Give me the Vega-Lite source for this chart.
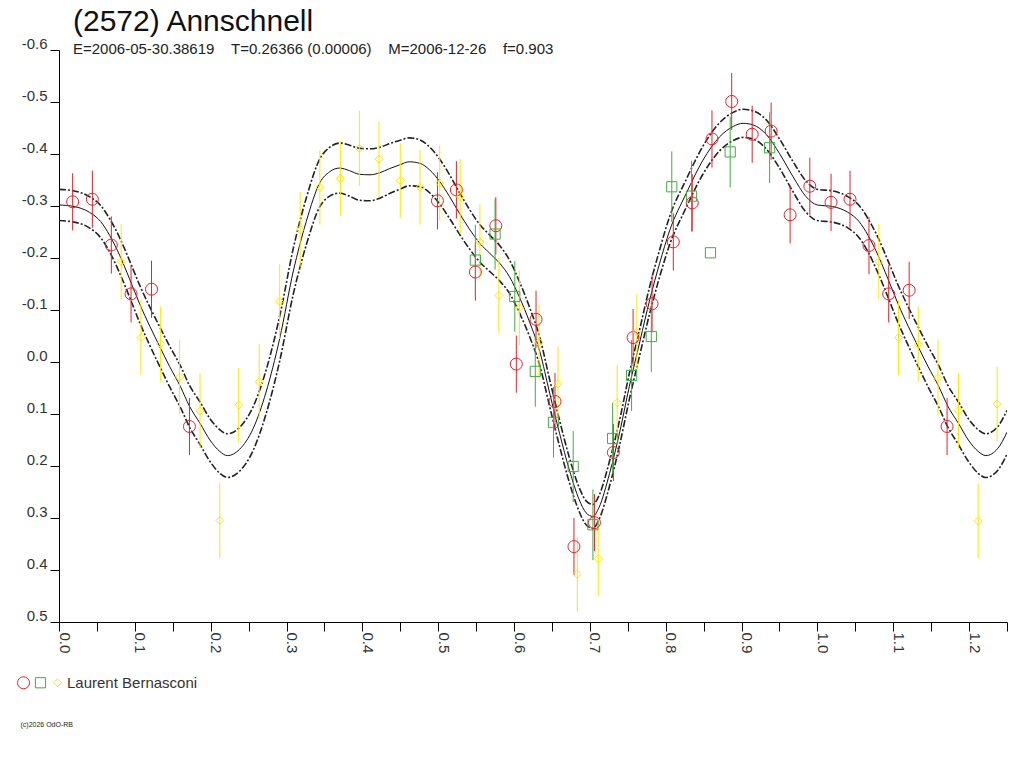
{
  "$schema": "https://vega.github.io/schema/vega-lite/v6.json",
  "autosize": {"type": "none"},
  "padding": {"left": 59, "top": 50, "right": 17, "bottom": 146},
  "width": 948,
  "height": 572,
  "background": "white",
  "title": {
    "text": "(2572) Annschnell",
    "subtitle": "E=2006-05-30.38619\u00a0\u00a0\u00a0\u00a0T=0.26366 (0.00006)\u00a0\u00a0\u00a0\u00a0M=2006-12-26\u00a0\u00a0\u00a0\u00a0f=0.903",
    "anchor": "start",
    "frame": "group",
    "dx": 14,
    "offset": -21,
    "font": "Liberation Sans",
    "fontSize": 30,
    "fontWeight": "normal",
    "color": "#111",
    "subtitleFont": "Liberation Sans",
    "subtitleFontSize": 15,
    "subtitleColor": "#222",
    "subtitlePadding": 5
  },
  "datasets": {
    "fit": [
      {"p": 0.000, "m": -0.302, "hi": -0.332, "lo": -0.272},
      {"p": 0.020, "m": -0.299, "hi": -0.329, "lo": -0.269},
      {"p": 0.040, "m": -0.288, "hi": -0.318, "lo": -0.258},
      {"p": 0.055, "m": -0.270, "hi": -0.301, "lo": -0.239},
      {"p": 0.067, "m": -0.243, "hi": -0.275, "lo": -0.211},
      {"p": 0.080, "m": -0.205, "hi": -0.239, "lo": -0.171},
      {"p": 0.093, "m": -0.160, "hi": -0.195, "lo": -0.125},
      {"p": 0.106, "m": -0.113, "hi": -0.149, "lo": -0.077},
      {"p": 0.120, "m": -0.068, "hi": -0.105, "lo": -0.031},
      {"p": 0.133, "m": -0.029, "hi": -0.067, "lo": 0.009},
      {"p": 0.146, "m": 0.009, "hi": -0.030, "lo": 0.048},
      {"p": 0.160, "m": 0.047, "hi": 0.007, "lo": 0.087},
      {"p": 0.172, "m": 0.085, "hi": 0.045, "lo": 0.125},
      {"p": 0.186, "m": 0.118, "hi": 0.077, "lo": 0.159},
      {"p": 0.199, "m": 0.150, "hi": 0.109, "lo": 0.191},
      {"p": 0.212, "m": 0.172, "hi": 0.130, "lo": 0.214},
      {"p": 0.222, "m": 0.180, "hi": 0.138, "lo": 0.222},
      {"p": 0.238, "m": 0.168, "hi": 0.126, "lo": 0.210},
      {"p": 0.256, "m": 0.128, "hi": 0.086, "lo": 0.170},
      {"p": 0.273, "m": 0.058, "hi": 0.016, "lo": 0.100},
      {"p": 0.291, "m": -0.045, "hi": -0.088, "lo": -0.002},
      {"p": 0.309, "m": -0.175, "hi": -0.219, "lo": -0.131},
      {"p": 0.326, "m": -0.270, "hi": -0.315, "lo": -0.225},
      {"p": 0.344, "m": -0.345, "hi": -0.391, "lo": -0.299},
      {"p": 0.357, "m": -0.366, "hi": -0.413, "lo": -0.319},
      {"p": 0.370, "m": -0.373, "hi": -0.421, "lo": -0.325},
      {"p": 0.383, "m": -0.368, "hi": -0.417, "lo": -0.319},
      {"p": 0.396, "m": -0.361, "hi": -0.411, "lo": -0.311},
      {"p": 0.410, "m": -0.360, "hi": -0.410, "lo": -0.310},
      {"p": 0.423, "m": -0.364, "hi": -0.413, "lo": -0.315},
      {"p": 0.436, "m": -0.372, "hi": -0.420, "lo": -0.324},
      {"p": 0.449, "m": -0.379, "hi": -0.426, "lo": -0.332},
      {"p": 0.462, "m": -0.385, "hi": -0.431, "lo": -0.339},
      {"p": 0.476, "m": -0.382, "hi": -0.427, "lo": -0.337},
      {"p": 0.489, "m": -0.369, "hi": -0.413, "lo": -0.325},
      {"p": 0.502, "m": -0.347, "hi": -0.390, "lo": -0.304},
      {"p": 0.515, "m": -0.318, "hi": -0.360, "lo": -0.276},
      {"p": 0.528, "m": -0.286, "hi": -0.326, "lo": -0.246},
      {"p": 0.541, "m": -0.256, "hi": -0.294, "lo": -0.218},
      {"p": 0.555, "m": -0.228, "hi": -0.264, "lo": -0.192},
      {"p": 0.568, "m": -0.209, "hi": -0.244, "lo": -0.174},
      {"p": 0.581, "m": -0.190, "hi": -0.224, "lo": -0.156},
      {"p": 0.594, "m": -0.164, "hi": -0.196, "lo": -0.132},
      {"p": 0.607, "m": -0.125, "hi": -0.155, "lo": -0.095},
      {"p": 0.621, "m": -0.075, "hi": -0.103, "lo": -0.047},
      {"p": 0.634, "m": -0.020, "hi": -0.047, "lo": 0.007},
      {"p": 0.647, "m": 0.060, "hi": 0.034, "lo": 0.086},
      {"p": 0.660, "m": 0.137, "hi": 0.112, "lo": 0.162},
      {"p": 0.673, "m": 0.208, "hi": 0.184, "lo": 0.232},
      {"p": 0.686, "m": 0.265, "hi": 0.242, "lo": 0.288},
      {"p": 0.695, "m": 0.290, "hi": 0.267, "lo": 0.313},
      {"p": 0.704, "m": 0.297, "hi": 0.274, "lo": 0.320},
      {"p": 0.712, "m": 0.280, "hi": 0.257, "lo": 0.303},
      {"p": 0.726, "m": 0.214, "hi": 0.190, "lo": 0.238},
      {"p": 0.739, "m": 0.137, "hi": 0.113, "lo": 0.161},
      {"p": 0.752, "m": 0.047, "hi": 0.022, "lo": 0.072},
      {"p": 0.766, "m": -0.040, "hi": -0.065, "lo": -0.015},
      {"p": 0.779, "m": -0.120, "hi": -0.146, "lo": -0.094},
      {"p": 0.792, "m": -0.190, "hi": -0.216, "lo": -0.164},
      {"p": 0.805, "m": -0.252, "hi": -0.279, "lo": -0.225},
      {"p": 0.827, "m": -0.324, "hi": -0.351, "lo": -0.297},
      {"p": 0.849, "m": -0.388, "hi": -0.415, "lo": -0.361},
      {"p": 0.871, "m": -0.433, "hi": -0.460, "lo": -0.406},
      {"p": 0.889, "m": -0.453, "hi": -0.480, "lo": -0.426},
      {"p": 0.902, "m": -0.459, "hi": -0.486, "lo": -0.432},
      {"p": 0.915, "m": -0.456, "hi": -0.483, "lo": -0.429},
      {"p": 0.933, "m": -0.437, "hi": -0.465, "lo": -0.409},
      {"p": 0.950, "m": -0.401, "hi": -0.429, "lo": -0.373},
      {"p": 0.968, "m": -0.356, "hi": -0.385, "lo": -0.327},
      {"p": 0.985, "m": -0.318, "hi": -0.348, "lo": -0.288},
      {"p": 1.000, "m": -0.302, "hi": -0.332, "lo": -0.272},
      {"p": 1.020, "m": -0.299, "hi": -0.329, "lo": -0.269},
      {"p": 1.040, "m": -0.288, "hi": -0.318, "lo": -0.258},
      {"p": 1.055, "m": -0.270, "hi": -0.301, "lo": -0.239},
      {"p": 1.067, "m": -0.243, "hi": -0.275, "lo": -0.211},
      {"p": 1.080, "m": -0.205, "hi": -0.239, "lo": -0.171},
      {"p": 1.093, "m": -0.160, "hi": -0.195, "lo": -0.125},
      {"p": 1.106, "m": -0.113, "hi": -0.149, "lo": -0.077},
      {"p": 1.120, "m": -0.068, "hi": -0.105, "lo": -0.031},
      {"p": 1.133, "m": -0.029, "hi": -0.067, "lo": 0.009},
      {"p": 1.146, "m": 0.009, "hi": -0.030, "lo": 0.048},
      {"p": 1.160, "m": 0.047, "hi": 0.007, "lo": 0.087},
      {"p": 1.172, "m": 0.085, "hi": 0.045, "lo": 0.125},
      {"p": 1.186, "m": 0.118, "hi": 0.077, "lo": 0.159},
      {"p": 1.199, "m": 0.150, "hi": 0.109, "lo": 0.191},
      {"p": 1.212, "m": 0.172, "hi": 0.130, "lo": 0.214},
      {"p": 1.222, "m": 0.180, "hi": 0.138, "lo": 0.222},
      {"p": 1.238, "m": 0.166, "hi": 0.124, "lo": 0.208},
      {"p": 1.250, "m": 0.135, "hi": 0.093, "lo": 0.177}
    ],
    "obs": [
      {"p": 0.018, "m": -0.308, "e": 0.055, "session": "1"},
      {"p": 0.044, "m": -0.313, "e": 0.055, "session": "1"},
      {"p": 0.069, "m": -0.225, "e": 0.055, "session": "1"},
      {"p": 0.095, "m": -0.131, "e": 0.055, "session": "1"},
      {"p": 0.122, "m": -0.140, "e": 0.055, "session": "1"},
      {"p": 0.172, "m": 0.124, "e": 0.055, "session": "1"},
      {"p": 0.499, "m": -0.310, "e": 0.055, "session": "1"},
      {"p": 0.524, "m": -0.331, "e": 0.055, "session": "1"},
      {"p": 0.549, "m": -0.173, "e": 0.055, "session": "1"},
      {"p": 0.576, "m": -0.262, "e": 0.055, "session": "1"},
      {"p": 0.603, "m": 0.004, "e": 0.055, "session": "1"},
      {"p": 0.629, "m": -0.082, "e": 0.055, "session": "1"},
      {"p": 0.654, "m": 0.076, "e": 0.055, "session": "1"},
      {"p": 0.679, "m": 0.355, "e": 0.055, "session": "1"},
      {"p": 0.706, "m": 0.309, "e": 0.055, "session": "1"},
      {"p": 0.731, "m": 0.174, "e": 0.055, "session": "1"},
      {"p": 0.757, "m": -0.047, "e": 0.055, "session": "1"},
      {"p": 0.782, "m": -0.112, "e": 0.055, "session": "1"},
      {"p": 0.810, "m": -0.231, "e": 0.055, "session": "1"},
      {"p": 0.835, "m": -0.306, "e": 0.055, "session": "1"},
      {"p": 0.861, "m": -0.429, "e": 0.055, "session": "1"},
      {"p": 0.887, "m": -0.501, "e": 0.055, "session": "1"},
      {"p": 0.914, "m": -0.438, "e": 0.055, "session": "1"},
      {"p": 0.939, "m": -0.444, "e": 0.055, "session": "1"},
      {"p": 0.964, "m": -0.283, "e": 0.055, "session": "1"},
      {"p": 0.990, "m": -0.338, "e": 0.055, "session": "1"},
      {"p": 1.018, "m": -0.307, "e": 0.055, "session": "1"},
      {"p": 1.043, "m": -0.313, "e": 0.055, "session": "1"},
      {"p": 1.068, "m": -0.224, "e": 0.055, "session": "1"},
      {"p": 1.094, "m": -0.131, "e": 0.055, "session": "1"},
      {"p": 1.121, "m": -0.138, "e": 0.055, "session": "1"},
      {"p": 1.171, "m": 0.124, "e": 0.055, "session": "1"},
      {"p": 0.549, "m": -0.196, "e": 0.068, "session": "2"},
      {"p": 0.575, "m": -0.246, "e": 0.068, "session": "2"},
      {"p": 0.601, "m": -0.126, "e": 0.068, "session": "2"},
      {"p": 0.628, "m": 0.018, "e": 0.068, "session": "2"},
      {"p": 0.652, "m": 0.116, "e": 0.068, "session": "2"},
      {"p": 0.678, "m": 0.201, "e": 0.068, "session": "2"},
      {"p": 0.704, "m": 0.313, "e": 0.068, "session": "2"},
      {"p": 0.730, "m": 0.147, "e": 0.068, "session": "2"},
      {"p": 0.755, "m": 0.026, "e": 0.068, "session": "2"},
      {"p": 0.781, "m": -0.049, "e": 0.068, "session": "2"},
      {"p": 0.808, "m": -0.337, "e": 0.068, "session": "2"},
      {"p": 0.834, "m": -0.319, "e": 0.068, "session": "2"},
      {"p": 0.859, "m": -0.210, "e": 0.0, "session": "2"},
      {"p": 0.885, "m": -0.404, "e": 0.068, "session": "2"},
      {"p": 0.937, "m": -0.412, "e": 0.068, "session": "2"},
      {"p": 0.082, "m": -0.193, "e": 0.072, "session": "3"},
      {"p": 0.108, "m": -0.047, "e": 0.072, "session": "3"},
      {"p": 0.134, "m": -0.035, "e": 0.072, "session": "3"},
      {"p": 0.159, "m": 0.029, "e": 0.072, "session": "3"},
      {"p": 0.186, "m": 0.094, "e": 0.072, "session": "3"},
      {"p": 0.212, "m": 0.305, "e": 0.072, "session": "3"},
      {"p": 0.237, "m": 0.083, "e": 0.072, "session": "3"},
      {"p": 0.264, "m": 0.038, "e": 0.072, "session": "3"},
      {"p": 0.291, "m": -0.116, "e": 0.072, "session": "3"},
      {"p": 0.318, "m": -0.255, "e": 0.072, "session": "3"},
      {"p": 0.344, "m": -0.336, "e": 0.072, "session": "3"},
      {"p": 0.371, "m": -0.353, "e": 0.072, "session": "3"},
      {"p": 0.396, "m": -0.411, "e": 0.072, "session": "3"},
      {"p": 0.422, "m": -0.390, "e": 0.072, "session": "3"},
      {"p": 0.450, "m": -0.349, "e": 0.072, "session": "3"},
      {"p": 0.476, "m": -0.336, "e": 0.072, "session": "3"},
      {"p": 0.502, "m": -0.344, "e": 0.072, "session": "3"},
      {"p": 0.529, "m": -0.318, "e": 0.072, "session": "3"},
      {"p": 0.555, "m": -0.231, "e": 0.072, "session": "3"},
      {"p": 0.580, "m": -0.128, "e": 0.072, "session": "3"},
      {"p": 0.607, "m": -0.104, "e": 0.072, "session": "3"},
      {"p": 0.633, "m": -0.038, "e": 0.072, "session": "3"},
      {"p": 0.658, "m": 0.042, "e": 0.072, "session": "3"},
      {"p": 0.6835, "m": 0.408, "e": 0.072, "session": "3"},
      {"p": 0.711, "m": 0.378, "e": 0.072, "session": "3"},
      {"p": 0.736, "m": 0.078, "e": 0.072, "session": "3"},
      {"p": 0.762, "m": -0.058, "e": 0.072, "session": "3"},
      {"p": 1.081, "m": -0.193, "e": 0.072, "session": "3"},
      {"p": 1.107, "m": -0.047, "e": 0.072, "session": "3"},
      {"p": 1.133, "m": -0.034, "e": 0.072, "session": "3"},
      {"p": 1.159, "m": 0.030, "e": 0.072, "session": "3"},
      {"p": 1.186, "m": 0.094, "e": 0.072, "session": "3"},
      {"p": 1.212, "m": 0.306, "e": 0.072, "session": "3"},
      {"p": 1.237, "m": 0.081, "e": 0.072, "session": "3"}
    ]
  },
  "encoding": {
    "x": {
      "field": "p",
      "type": "quantitative",
      "scale": {"domain": [0, 1.25], "nice": false, "zero": false},
      "axis": {
        "title": "(c)2026 OdO-RB",
        "titleFontSize": 7,
        "titleFontWeight": "normal",
        "titleColor": "#222",
        "titleX": -39,
        "titleY": 102,
        "titleAlign": "left",
        "titleBaseline": "middle",
        "values": [0, 0.05, 0.1, 0.15, 0.2, 0.25, 0.3, 0.35, 0.4, 0.45, 0.5, 0.55, 0.6, 0.65, 0.7, 0.75, 0.8, 0.85, 0.9, 0.95, 1.0, 1.05, 1.1, 1.15, 1.2, 1.25],
        "labelExpr": "abs(datum.value * 10 - round(datum.value * 10)) < 0.01 ? format(datum.value, '.1f') : ''",
        "labelAngle": 90,
        "labelAlign": "left",
        "labelBaseline": "alphabetic",
        "labelPadding": 1,
        "labelFlush": false,
        "labelOverlap": false,
        "labelBound": false
      }
    }
  },
  "resolve": {"legend": {"color": "independent", "shape": "independent", "size": "independent"}},
  "layer": [
    {
      "data": {"name": "fit"},
      "mark": {"type": "line", "color": "#111", "strokeWidth": 1, "interpolate": "monotone", "clip": true},
      "encoding": {
        "y": {
          "field": "m",
          "type": "quantitative",
          "title": null,
          "scale": {"domain": [-0.6, 0.5], "reverse": true, "nice": false, "zero": false},
          "axis": {
            "values": [-0.6, -0.5, -0.4, -0.3, -0.2, -0.1, 0, 0.1, 0.2, 0.3, 0.4, 0.5],
            "labelExpr": "replace(format(datum.value, '.1f'), '\u2212', '-')",
            "labelPadding": 3,
            "labelBaseline": "middle",
            "labelOffset": -7,
            "labelFlush": false,
            "labelOverlap": false,
            "labelBound": false
          }
        }
      }
    },
    {
      "data": {"name": "fit"},
      "mark": {"type": "line", "color": "#222", "strokeWidth": 1.6, "strokeDash": [7, 2, 2, 2], "interpolate": "monotone", "clip": true},
      "encoding": {"y": {"field": "hi", "type": "quantitative", "title": null}}
    },
    {
      "data": {"name": "fit"},
      "mark": {"type": "line", "color": "#222", "strokeWidth": 1.6, "strokeDash": [7, 2, 2, 2], "interpolate": "monotone", "clip": true},
      "encoding": {"y": {"field": "lo", "type": "quantitative", "title": null}}
    },
    {
      "data": {"name": "obs"},
      "mark": {"type": "errorbar", "thickness": 1, "clip": true},
      "encoding": {
        "y": {"field": "m", "type": "quantitative", "title": null},
        "yError": {"field": "e"},
        "color": {
          "field": "session",
          "type": "nominal",
          "legend": null,
          "scale": {"domain": ["1", "2", "3"], "range": ["#e8202a", "#44aa44", "#ffe600"]}
        }
      }
    },
    {
      "data": {"name": "obs"},
      "mark": {"type": "point", "filled": false, "strokeWidth": 1, "opacity": 1, "clip": true},
      "encoding": {
        "y": {"field": "m", "type": "quantitative", "title": null},
        "color": {
          "field": "session",
          "type": "nominal",
          "scale": {"domain": ["1", "2", "3"], "range": ["#e8202a", "#44aa44", "#ffe600"]},
          "legend": {
            "orient": "none",
            "legendX": -43,
            "legendY": 625,
            "direction": "horizontal",
            "title": null,
            "padding": 0,
            "labelExpr": "datum.label == '3' ? 'Laurent Bernasconi' : ''",
            "labelFontSize": 15,
            "labelColor": "#333",
            "labelFont": "Liberation Sans",
            "labelOffset": 2,
            "columnPadding": 0,
            "symbolSize": 85,
            "symbolStrokeWidth": 1,
            "symbolFillColor": "transparent"
          }
        },
        "shape": {
          "field": "session",
          "type": "nominal",
          "scale": {"domain": ["1", "2", "3"], "range": ["circle", "square", "diamond"]}
        },
        "size": {
          "field": "session",
          "type": "nominal",
          "legend": null,
          "scale": {"domain": ["1", "2", "3"], "range": [144, 64, 144]}
        }
      }
    }
  ],
  "config": {
    "font": "Liberation Sans",
    "view": {"stroke": null},
    "axis": {
      "grid": false,
      "domainColor": "#000",
      "domainWidth": 1,
      "tickColor": "#000",
      "tickWidth": 1,
      "tickSize": 9,
      "labelColor": "#333",
      "labelFontSize": 15,
      "labelFont": "Liberation Sans"
    }
  }
}
